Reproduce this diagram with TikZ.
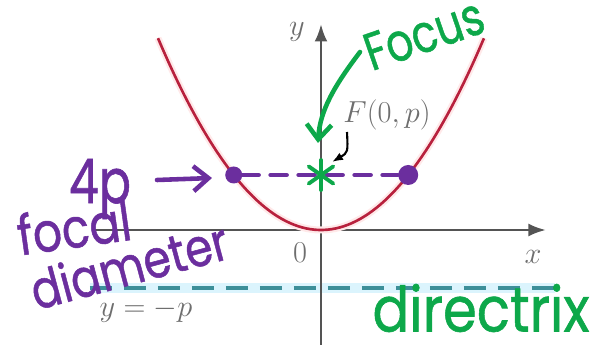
\documentclass[tikz,border=0pt]{standalone}
\usepackage{fontspec}
\usepackage{amsmath}
\usetikzlibrary{arrows.meta,calc}
\newfontfamily\handfont[FakeBold=1]{Poppins}
\definecolor{curvered}{rgb}{0.72,0.13,0.24}
\definecolor{inkpurple}{rgb}{0.42,0.18,0.62}
\definecolor{inkgreen}{rgb}{0.05,0.66,0.29}
\definecolor{dirteal}{rgb}{0.24,0.56,0.60}
\definecolor{axisgray}{rgb}{0.33,0.33,0.33}
\tikzset{
  axis/.style={draw=axisgray, line width=1.6pt, -{Latex[length=3.5mm,width=2.6mm]}},
  book/.style={text=axisgray!85, font=\fontsize{16}{18}\selectfont, inner sep=0pt},
  hand/.style={font=\handfont\fontsize{#1}{#1}\selectfont, inner sep=0pt, transform shape},
  inkp/.style={draw=inkpurple, line width=2.6pt, line cap=round},
  inkg/.style={draw=inkgreen, line width=2.6pt, line cap=round},
}
\begin{document}
\begin{tikzpicture}[
    dotp/.style={circle, fill=inkpurple, minimum size=3.4mm, inner sep=0pt},
    barb/.style={-{Straight Barb[length=3mm,width=5mm]}}]
  \useasboundingbox (-6.42,-2.3) rectangle (5.66,4.6);
  % directrix
  \draw[cyan!14, line width=6pt] (-4.62,-1.16) -- (4.68,-1.16);
  \draw[dirteal, line width=2.4pt, dash pattern=on 0.44cm off 0.24cm] (-4.62,-1.16) -- (4.68,-1.16);
  % axes
  \coordinate (O) at (0,0);
  \draw[axis] (-4.58,0) -- (4.5,0);
  \draw[axis] (0,-2.3) -- (0,4.12);
  \node[book] (ylab) at (-0.48,3.96) {$y$};
  \node[book] (xlab) at (4.24,-0.54) {$x$};
  \node[book] (olab) at (-0.42,-0.46) {$0$};
  \node[book] (dirlab) at (-3.5,-1.62) {$y=-p$};
  % parabola
  \draw[pink!35, line width=4pt] plot[domain=-3.26:3.26, samples=80] (\x,{0.361*\x*\x});
  \draw[curvered, line width=1.5pt] plot[domain=-3.26:3.26, samples=80] (\x,{0.361*\x*\x});
  % focus and focal chord
  \coordinate (F) at (0,1.1);
  \node[dotp] (lend) at (-1.745,1.1) {};
  \node[dotp, minimum width=4mm] (rend) at (1.745,1.1) {};
  \draw[inkp, dash pattern=on 0.32cm off 0.24cm] (lend) -- (rend);
  \foreach \a in {90,35,145}
    \draw[inkg, line width=2.2pt] ($(F)+(\a:0.3)$) -- ($(F)+(\a+180:0.3)$);
  \node[book] (flab) at (1.32,2.3) {$F(0,p)$};
  \draw[black, line width=1.2pt, -{Latex[length=2.2mm]}] (0.52,1.96) .. controls (0.54,1.55) .. (0.22,1.36);
  % handwritten notes
  \node[hand=24, text=inkgreen, rotate=19, yscale=1.25] (focus) at (2.06,3.92) {Focus};
  \draw[inkg, barb] (0.78,3.56) .. controls (0.28,2.9) and (-0.02,2.4) .. (-0.06,1.74);
  \node[hand=31, text=inkgreen, yscale=1.15] (dirtext) at (3.2,-1.56) {directrix};
  \node[hand=27, text=inkpurple, yscale=1.3] (four) at (-4.42,0.82) {4p};
  \coordinate (arrtail) at (-3.28,1.0);
  \draw[inkp, barb] (arrtail) -- (-2.18,1.04);
  \node[hand=26, text=inkpurple, rotate=8, yscale=1.2] (focal) at (-4.94,0.06) {focal};
  \node[hand=25, text=inkpurple, rotate=15, yscale=1.2] (diam) at (-3.84,-0.7) {diameter};
\end{tikzpicture}
\end{document}
